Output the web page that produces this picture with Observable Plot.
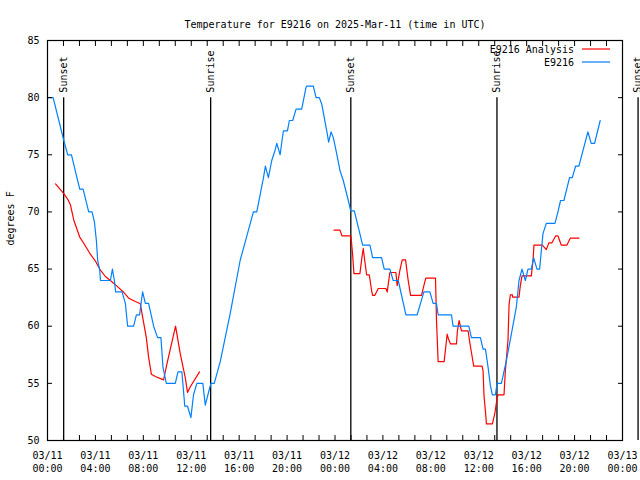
<!DOCTYPE html>
<html>
<head>
<meta charset="utf-8">
<script src="https://cdn.jsdelivr.net/npm/d3@7"></script>
<script src="https://cdn.jsdelivr.net/npm/@observablehq/plot@0.6"></script>
<style>
  html, body { margin: 0; padding: 0; background: #fff; }
  svg { display: block; }
</style>
</head>
<body>
<div id="chart"></div>
<script>
// ---- data (hours since 2025-03-11 00:00 UTC, degrees F) ----
const titleText = "Temperature for E9216 on 2025-Mar-11 (time in UTC)";
const yLabel = "degrees F";
const seriesNames = ["E9216 Analysis", "E9216"];
const seriesColors = ["#ff0000", "#0080ff"];

const obsHours = [0.00,0.47,1.36,1.69,2.00,2.69,2.97,3.44,3.72,3.92,4.08,4.19,4.36,4.42,5.25,5.42,5.58,5.69,6.22,6.50,6.69,7.19,7.42,7.69,7.81,7.94,8.17,8.44,8.86,9.19,9.47,9.64,9.92,10.67,10.89,11.22,11.42,11.46,11.69,11.97,12.19,12.47,12.97,13.17,13.44,13.64,13.92,14.42,15.25,16.08,17.19,17.47,18.03,18.19,18.44,18.72,19.00,19.14,19.42,19.56,19.69,20.03,20.19,20.47,20.75,21.22,21.58,21.64,22.19,22.42,22.69,22.89,23.31,23.47,23.67,23.86,24.14,24.42,24.69,25.11,25.31,25.61,26.31,26.92,27.14,27.89,28.11,28.58,28.86,29.28,29.92,30.86,31.42,31.92,32.19,32.47,32.61,33.72,33.86,35.17,35.39,36.14,36.36,36.56,36.78,36.97,37.14,37.39,37.53,37.89,38.31,38.72,39.14,39.36,39.61,39.89,40.11,40.39,40.58,40.86,41.08,41.36,41.64,42.36,42.61,42.83,43.11,43.58,43.81,44.08,44.36,45.11,45.39,45.67,46.14];
const obsTemps = [80,80,76.25,75,75,72,72,70,70,69.1,67.5,65.75,64.9,64,64,65,64,63,63,62,60,60,61,61,62,63,62,62,60,59,59,56.4,55,55,56,56,53.5,53,53,52,54,55,55,53.1,54.2,55,55,56.9,61.1,65.75,70,70,73,74,73,74.5,75.4,76,75,76.1,77.1,77.1,78,78,79,79,80.9,81,81,80,80,79.45,77.1,76.1,77,76.5,75.1,73.6,72.75,71,70.1,70.1,67.1,67.1,66,66,65,65,64,64,61,61,63,63,62,62,61,61,60,60,59,59,58,58,56.4,54.8,54,54,55,55,57,59.3,61.7,64,65,64,65,65,66,65,65,68.1,69,69,70,71,71,73,73,74,74,77,76,76,78];

const anaHours = [0.67,1.36,1.69,1.92,2.19,2.69,3.00,3.58,4.00,4.36,4.83,5.25,5.75,6.36,6.78,7.33,7.75,7.89,8.25,8.44,8.67,9.00,9.69,9.97,10.69,11.08,11.50,11.69,11.92,12.69,
  18.00,
  23.92,24.42,24.58,25.33,25.47,25.58,26.08,26.25,26.36,26.50,26.64,26.86,27.06,27.14,27.33,27.61,28.25,28.36,28.58,29.08,29.19,29.42,29.61,29.89,30.11,30.31,31.22,31.42,31.58,32.39,32.47,32.56,32.61,33.11,33.25,33.36,33.47,33.64,34.14,34.22,34.36,34.56,35.11,35.25,35.39,35.58,36.28,36.36,36.44,36.58,36.64,37.14,37.33,37.53,37.61,38.11,38.22,38.44,38.53,38.64,38.81,38.83,39.36,39.47,39.61,40.39,40.53,40.61,41.31,41.64,41.86,42.11,42.42,42.61,42.89,43.36,43.64,44.36];
const anaTemps = [72.45,71.6,71.1,70.6,69.3,67.8,67.3,66.3,65.7,65.0,64.35,64,63.55,62.97,62.45,62.16,61.96,61.1,59.0,57.3,55.8,55.6,55.3,56.7,60.0,57.6,55.5,54.2,54.7,56.0,
  null,
  68.4,68.4,67.9,67.9,66.3,64.6,64.6,66.05,66.8,65.6,64.5,64.5,63.1,62.7,62.7,63.3,63.3,63.0,64.7,64.7,63.55,64.9,65.8,65.8,64,62.7,62.7,63.55,64.2,64.2,60.6,58.2,56.9,56.9,58.2,59.3,58.9,58.45,58.45,59.6,60.5,59.6,59.6,58.6,57.7,56.5,56.5,56.1,53.9,52.3,51.45,51.45,52.3,53.7,54.0,54.0,56.1,58.75,61.9,62.75,62.75,62.55,62.55,63.55,64.4,64.4,65.75,67.1,67.1,66.7,67.3,67.3,67.9,67.9,67.1,67.1,67.7,67.7];

const sunNames = ["Sunset", "Sunrise", "Sunset", "Sunrise", "Sunset"];
const sunHours = [1.35, 13.62, 25.32, 37.52, 49.30];

const xTickHours = [0,4,8,12,16,20,24,28,32,36,40,44,48];
const xTickLabels = ["03/11\n00:00","03/11\n04:00","03/11\n08:00","03/11\n12:00","03/11\n16:00","03/11\n20:00",
  "03/12\n00:00","03/12\n04:00","03/12\n08:00","03/12\n12:00","03/12\n16:00","03/12\n20:00","03/13\n00:00"];
const yTicks = [50,55,60,65,70,75,80,85];

// ---- build ----
const t0 = Date.UTC(2025, 2, 11, 0, 0);
const toDate = h => new Date(t0 + h * 3600e3);
const obs = obsHours.map((h, i) => ({t: toDate(h), v: obsTemps[i]}));
const ana = anaHours.map((h, i) => ({t: toDate(h), v: anaTemps[i]}));
const sun = sunHours.map((h, i) => ({t: toDate(h), name: sunNames[i]}));
const majorTicks = xTickHours.map(toDate);
const labelOf = new Map(majorTicks.map((d, i) => [+d, xTickLabels[i]]));
const minorTicks = d3.range(0, 48.001, 4 / 3).map(toDate);

const W = 640, H = 480, mL = 47, mR = 18, mT = 40, mB = 40;

const plot = Plot.plot({
  width: W, height: H,
  marginLeft: mL, marginRight: mR, marginTop: mT, marginBottom: mB,
  style: {fontFamily: "'DejaVu Sans Mono', monospace", fontSize: "10px", color: "#000", background: "#fff"},
  x: {type: "utc", domain: [toDate(0), toDate(48)]},
  y: {domain: [50, 85]},
  marks: [
    Plot.ruleX(sun, {x: "t", y1: 50, y2: 80, stroke: "#000", strokeWidth: 1.3}),
    Plot.text(sun, {x: "t", y: 80, text: "name", rotate: -90, textAnchor: "start", dy: -5, fill: "#000", fontSize: 10}),
    Plot.line(ana, {x: "t", y: "v", stroke: seriesColors[0], strokeWidth: 1.2}),
    Plot.line(obs, {x: "t", y: "v", stroke: seriesColors[1], strokeWidth: 1.2}),
    Plot.axisY({anchor: "left", ticks: yTicks, tickSize: 0, tickPadding: 8, tickFormat: d => String(d), label: null}),
    Plot.axisY({anchor: "left", ticks: yTicks, tickSize: -5, text: null, label: null}),
    Plot.axisY({anchor: "right", ticks: yTicks, tickSize: -5, text: null, label: null}),
    Plot.axisX({anchor: "bottom", ticks: majorTicks, tickSize: 0, tickPadding: 9, lineHeight: 1.3,
      tickFormat: d => labelOf.get(+d) ?? "", label: null}),
    Plot.axisX({anchor: "bottom", ticks: minorTicks, tickSize: -5, text: null, label: null}),
    Plot.axisX({anchor: "top", ticks: minorTicks, tickSize: -5, text: null, label: null}),
    Plot.frame({stroke: "#000", strokeWidth: 1.2}),
    Plot.text([yLabel], {frameAnchor: "left", dx: -37, dy: 5, rotate: -90, fill: "#000", fontSize: 10}),
    Plot.text([titleText], {frameAnchor: "top", dy: -20, fill: "#000", fontSize: 10})
  ]
});

// legend (inside top-right of the frame)
const svg = d3.select(plot);
const fr = W - mR;
const legend = svg.append("g").attr("font-family", "'DejaVu Sans Mono', monospace").attr("font-size", 10);
seriesNames.forEach((name, i) => {
  const y = mT + 9 + i * 13;
  legend.append("text").attr("x", fr - 48).attr("y", y).attr("dy", "0.35em")
    .attr("text-anchor", "end").attr("fill", "#000").text(name);
  legend.append("line").attr("x1", fr - 40).attr("x2", fr - 12).attr("y1", y).attr("y2", y)
    .attr("stroke", seriesColors[i]).attr("stroke-width", 1.2);
});

document.getElementById("chart").appendChild(plot);
</script>
</body>
</html>
